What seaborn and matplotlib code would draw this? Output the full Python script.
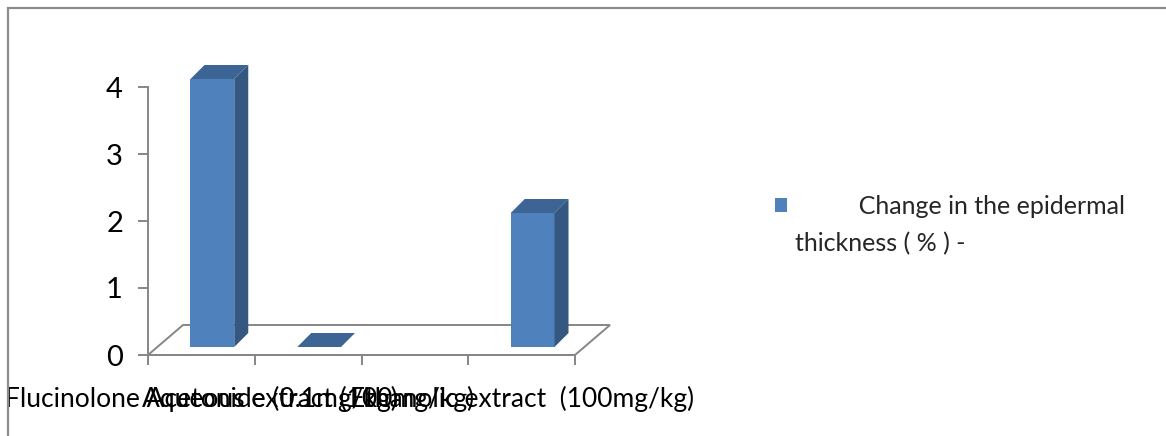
import numpy as np
import pandas as pd
import matplotlib
matplotlib.use("Agg")
import matplotlib.pyplot as plt
import seaborn as sns
from matplotlib.patches import Polygon, Rectangle, Patch
from matplotlib.transforms import IdentityTransform, ScaledTranslation

# ---- data ----
categories = ["Flucinolone Acetonide (0.1mg/kg)",
              "Aqueous extract (100mg/kg)",
              "",
              "Ethanolic extract  (100mg/kg)"]
values = [4.0, 0.0, np.nan, 2.0]
legend_line1 = "Change in the epidermal"
legend_line2 = "thickness ( % ) -"
y_ticks = [0, 1, 2, 3, 4]

FRONT = "#4F81BD"
SIDE = "#34587F"
TOP = "#3C6494"
AXIS = "#868686"
BORDER = "#8C8C8C"

sns.set_theme(style="white")
plt.rcParams["font.family"] = ["Lato", "DejaVu Sans"]

DPI = 100
W, H = 1166, 436
fig = plt.figure(figsize=(W / DPI, H / DPI), dpi=DPI)
fig.patch.set_facecolor("white")
ax = fig.add_axes([148 / W, 1 - 355 / H, (575 - 148) / W, (355 - 87) / H])
ax.set_facecolor("none")

df = pd.DataFrame({"category": categories, "value": values})
sns.barplot(data=df, x="category", y="value", order=categories, color=FRONT,
            saturation=1, width=0.41, errorbar=None, ax=ax, zorder=3,
            edgecolor="none", linewidth=0)

ax.set_xlim(-0.5, len(categories) - 0.5)
ax.set_ylim(0, 4)
ax.set_xlabel("")
ax.set_ylabel("")

FS_X = 19
FS_Y = 21
FS_L = 18
# shift front faces (3D inset) and draw side / top faces
OFF = np.array([11.0, 8.0])
DEP = np.array([14.0, 14.0])
shift = ScaledTranslation(OFF[0] / DPI, OFF[1] / DPI, fig.dpi_scale_trans)
bars = [p for p in ax.patches if isinstance(p, Rectangle)]
for p in bars:
    h = p.get_height()
    if not np.isfinite(h):
        continue
    x0 = p.get_x()
    x1 = x0 + p.get_width()
    p.set_transform(ax.transData + shift)
    p.set_clip_on(False)
    br = ax.transData.transform((x1, 0)) + OFF
    tl = ax.transData.transform((x0, h)) + OFF
    tr = ax.transData.transform((x1, h)) + OFF
    top = Polygon([tl, tr, tr + DEP, tl + DEP], closed=True, facecolor=TOP,
                  edgecolor="none", transform=IdentityTransform(), clip_on=False, zorder=4)
    ax.add_artist(top)
    if h > 0:
        side = Polygon([br, br + DEP, tr + DEP, tr], closed=True, facecolor=SIDE,
                       edgecolor="none", transform=IdentityTransform(), clip_on=False, zorder=4)
        ax.add_artist(side)

# floor
FD = np.array([35.0, 30.0])
fl = ax.transAxes.transform((0, 0))
fr = ax.transAxes.transform((1, 0))
floor = Polygon([fl, fr, fr + FD, fl + FD], closed=True, facecolor="white",
                edgecolor=AXIS, linewidth=1.4, transform=IdentityTransform(),
                clip_on=False, zorder=1)
ax.add_artist(floor)

# axes styling
for s in ["top", "right"]:
    ax.spines[s].set_visible(False)
for s in ["left", "bottom"]:
    ax.spines[s].set_color(AXIS)
    ax.spines[s].set_linewidth(1.4)
ax.set_yticks(y_ticks)
ax.set_yticklabels([str(t) for t in y_ticks])
ax.tick_params(axis="y", left=True, direction="out", length=7, width=1.4,
               color=AXIS, pad=11, labelsize=FS_Y, labelcolor="black")
ax.set_xticks(range(len(categories)))
ax.set_xticklabels(categories)
ax.set_xticks(np.arange(-0.5, len(categories), 1.0), minor=True)
ax.tick_params(axis="x", which="major", bottom=True, length=0, pad=22,
               labelsize=FS_X, labelcolor="black")
ax.tick_params(axis="x", which="minor", bottom=True, direction="out", length=7,
               width=1.4, color=AXIS)

# legend
handles = [Patch(facecolor=FRONT, edgecolor="none"),
           Patch(facecolor="none", edgecolor="none")]
labels = [" " * 10 + legend_line1, legend_line2]
fpx = FS_L * DPI / 72.0
leg = ax.legend(handles, labels, loc="upper left",
                bbox_to_anchor=(775 / W, 1 - 195 / H), bbox_transform=fig.transFigure,
                frameon=False, fontsize=FS_L, handlelength=12 / fpx, handleheight=13 / fpx,
                handletextpad=8 / fpx, labelspacing=0.55, borderpad=0, borderaxespad=0)

# outer border
border = Rectangle((8 / W, -0.2), 1.2, 1.2 - 8 / H, transform=fig.transFigure,
                   fill=False, edgecolor=BORDER, linewidth=1.6, clip_on=False)
fig.patches.append(border)

fig.savefig("out.png", dpi=DPI)
